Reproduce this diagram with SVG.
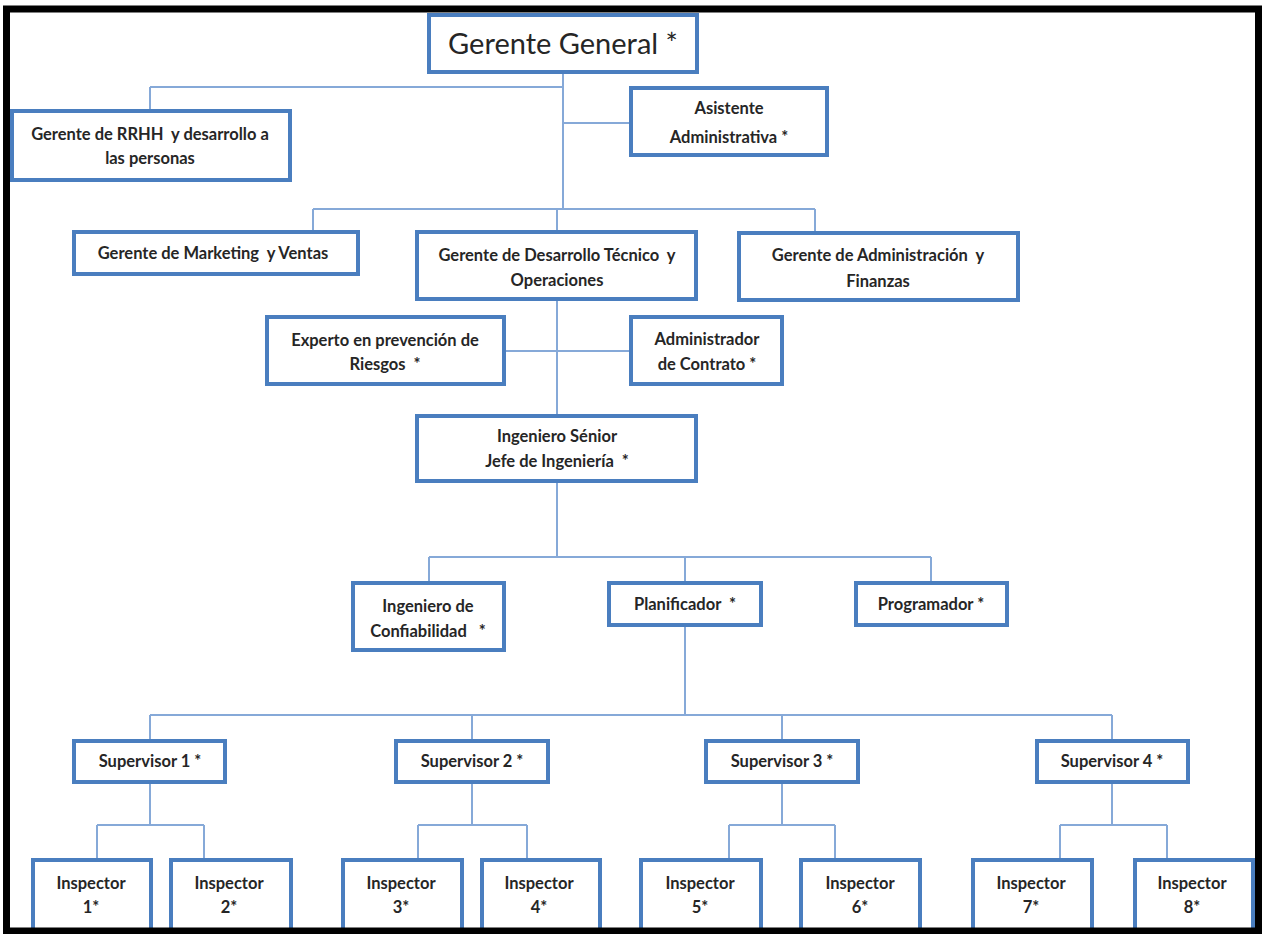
<svg xmlns="http://www.w3.org/2000/svg" width="1262" height="934" viewBox="0 0 1262 934">
<style>
.box{fill:#ffffff;stroke:#4a7ebf;stroke-width:4;}
.ln{fill:none;stroke:#86a9d8;stroke-width:2;}
.t{font-family:Lato,"Liberation Sans",sans-serif;font-weight:bold;font-size:16.5px;fill:#262626;text-anchor:middle;white-space:pre;}
.big{font-family:Lato,"Liberation Sans",sans-serif;font-weight:normal;font-size:29px;fill:#262626;text-anchor:middle;white-space:pre;}
</style>
<rect x="0" y="0" width="1262" height="934" fill="#ffffff"/>
<g id="connectors">
<path class="ln" d="M563 72V209M150 87H563M150 87V110M563 123H630M313 209H815M313 209V232M557 209V232M815 209V232"/>
<path class="ln" d="M557 299V416M503 351H630M557 482V557M429 557H931M429 557V582M685 557V582M931 557V582"/>
<path class="ln" d="M685 625V715M150 715H1112M150 715V740M472 715V740M782 715V740M1112 715V740"/>
<path class="ln" d="M150 782V825M97 825H204M97 825V860M204 825V860"/>
<path class="ln" d="M472 782V825M418 825H527M418 825V860M527 825V860"/>
<path class="ln" d="M782 782V825M729 825H835M729 825V860M835 825V860"/>
<path class="ln" d="M1112 782V825M1060 825H1167M1060 825V860M1167 825V860"/>
</g>
<g id="gerente-general"><rect class="box" x="429" y="15" width="268" height="57"/><text class="big" x="563" y="54">Gerente General *</text></g>
<g id="rrhh"><rect class="box" x="12" y="111" width="278" height="69"/><text class="t" x="150" y="140">Gerente de RRHH  y desarrollo a</text><text class="t" x="150" y="164">las personas</text></g>
<g id="asistente"><rect class="box" x="631" y="88" width="196" height="67"/><text class="t" x="729" y="114">Asistente</text><text class="t" x="729" y="143">Administrativa *</text></g>
<g id="marketing"><rect class="box" x="74" y="232" width="284" height="42"/><text class="t" x="213" y="259">Gerente de Marketing  y Ventas</text></g>
<g id="desarrollo"><rect class="box" x="417" y="232" width="279" height="67"/><text class="t" x="557" y="261">Gerente de Desarrollo Técnico  y</text><text class="t" x="557" y="286">Operaciones</text></g>
<g id="finanzas"><rect class="box" x="739" y="233" width="279" height="67"/><text class="t" x="878" y="261">Gerente de Administración  y</text><text class="t" x="878" y="287">Finanzas</text></g>
<g id="experto"><rect class="box" x="267" y="317" width="237" height="67"/><text class="t" x="385" y="346">Experto en prevención de</text><text class="t" x="385" y="370">Riesgos  *</text></g>
<g id="administrador"><rect class="box" x="631" y="317" width="151" height="67"/><text class="t" x="707" y="345">Administrador</text><text class="t" x="707" y="370">de Contrato *</text></g>
<g id="ingeniero-senior"><rect class="box" x="417" y="416" width="279" height="65"/><text class="t" x="557" y="442">Ingeniero Sénior</text><text class="t" x="557" y="467">Jefe de Ingeniería  *</text></g>
<g id="confiabilidad"><rect class="box" x="353" y="583" width="151" height="67"/><text class="t" x="428" y="612">Ingeniero de</text><text class="t" x="428" y="637">Confiabilidad   *</text></g>
<g id="planificador"><rect class="box" x="609" y="583" width="152" height="42"/><text class="t" x="685" y="610">Planificador  *</text></g>
<g id="programador"><rect class="box" x="856" y="583" width="151" height="42"/><text class="t" x="931" y="610">Programador *</text></g>
<g id="supervisor-1"><rect class="box" x="74" y="741" width="151" height="41"/><text class="t" x="150" y="767">Supervisor 1 *</text></g>
<g id="supervisor-2"><rect class="box" x="396" y="741" width="152" height="41"/><text class="t" x="472" y="767">Supervisor 2 *</text></g>
<g id="supervisor-3"><rect class="box" x="706" y="741" width="152" height="41"/><text class="t" x="782" y="767">Supervisor 3 *</text></g>
<g id="supervisor-4"><rect class="box" x="1037" y="741" width="151" height="41"/><text class="t" x="1112" y="767">Supervisor 4 *</text></g>
<g id="inspector-1"><rect class="box" x="33" y="860" width="118" height="70"/><text class="t" x="91" y="889">Inspector</text><text class="t" x="91" y="913">1*</text></g>
<g id="inspector-2"><rect class="box" x="171" y="860" width="120" height="70"/><text class="t" x="229" y="889">Inspector</text><text class="t" x="229" y="913">2*</text></g>
<g id="inspector-3"><rect class="box" x="343" y="860" width="119" height="70"/><text class="t" x="401" y="889">Inspector</text><text class="t" x="401" y="913">3*</text></g>
<g id="inspector-4"><rect class="box" x="482" y="860" width="118" height="70"/><text class="t" x="539" y="889">Inspector</text><text class="t" x="539" y="913">4*</text></g>
<g id="inspector-5"><rect class="box" x="641" y="860" width="120" height="70"/><text class="t" x="700" y="889">Inspector</text><text class="t" x="700" y="913">5*</text></g>
<g id="inspector-6"><rect class="box" x="801" y="860" width="119" height="70"/><text class="t" x="860" y="889">Inspector</text><text class="t" x="860" y="913">6*</text></g>
<g id="inspector-7"><rect class="box" x="973" y="860" width="119" height="70"/><text class="t" x="1031" y="889">Inspector</text><text class="t" x="1031" y="913">7*</text></g>
<g id="inspector-8"><rect class="box" x="1135" y="860" width="118" height="70"/><text class="t" x="1192" y="889">Inspector</text><text class="t" x="1192" y="913">8*</text></g>
<rect id="frame" x="6.5" y="9" width="1252" height="922" fill="none" stroke="#000000" stroke-width="7"/>
</svg>
